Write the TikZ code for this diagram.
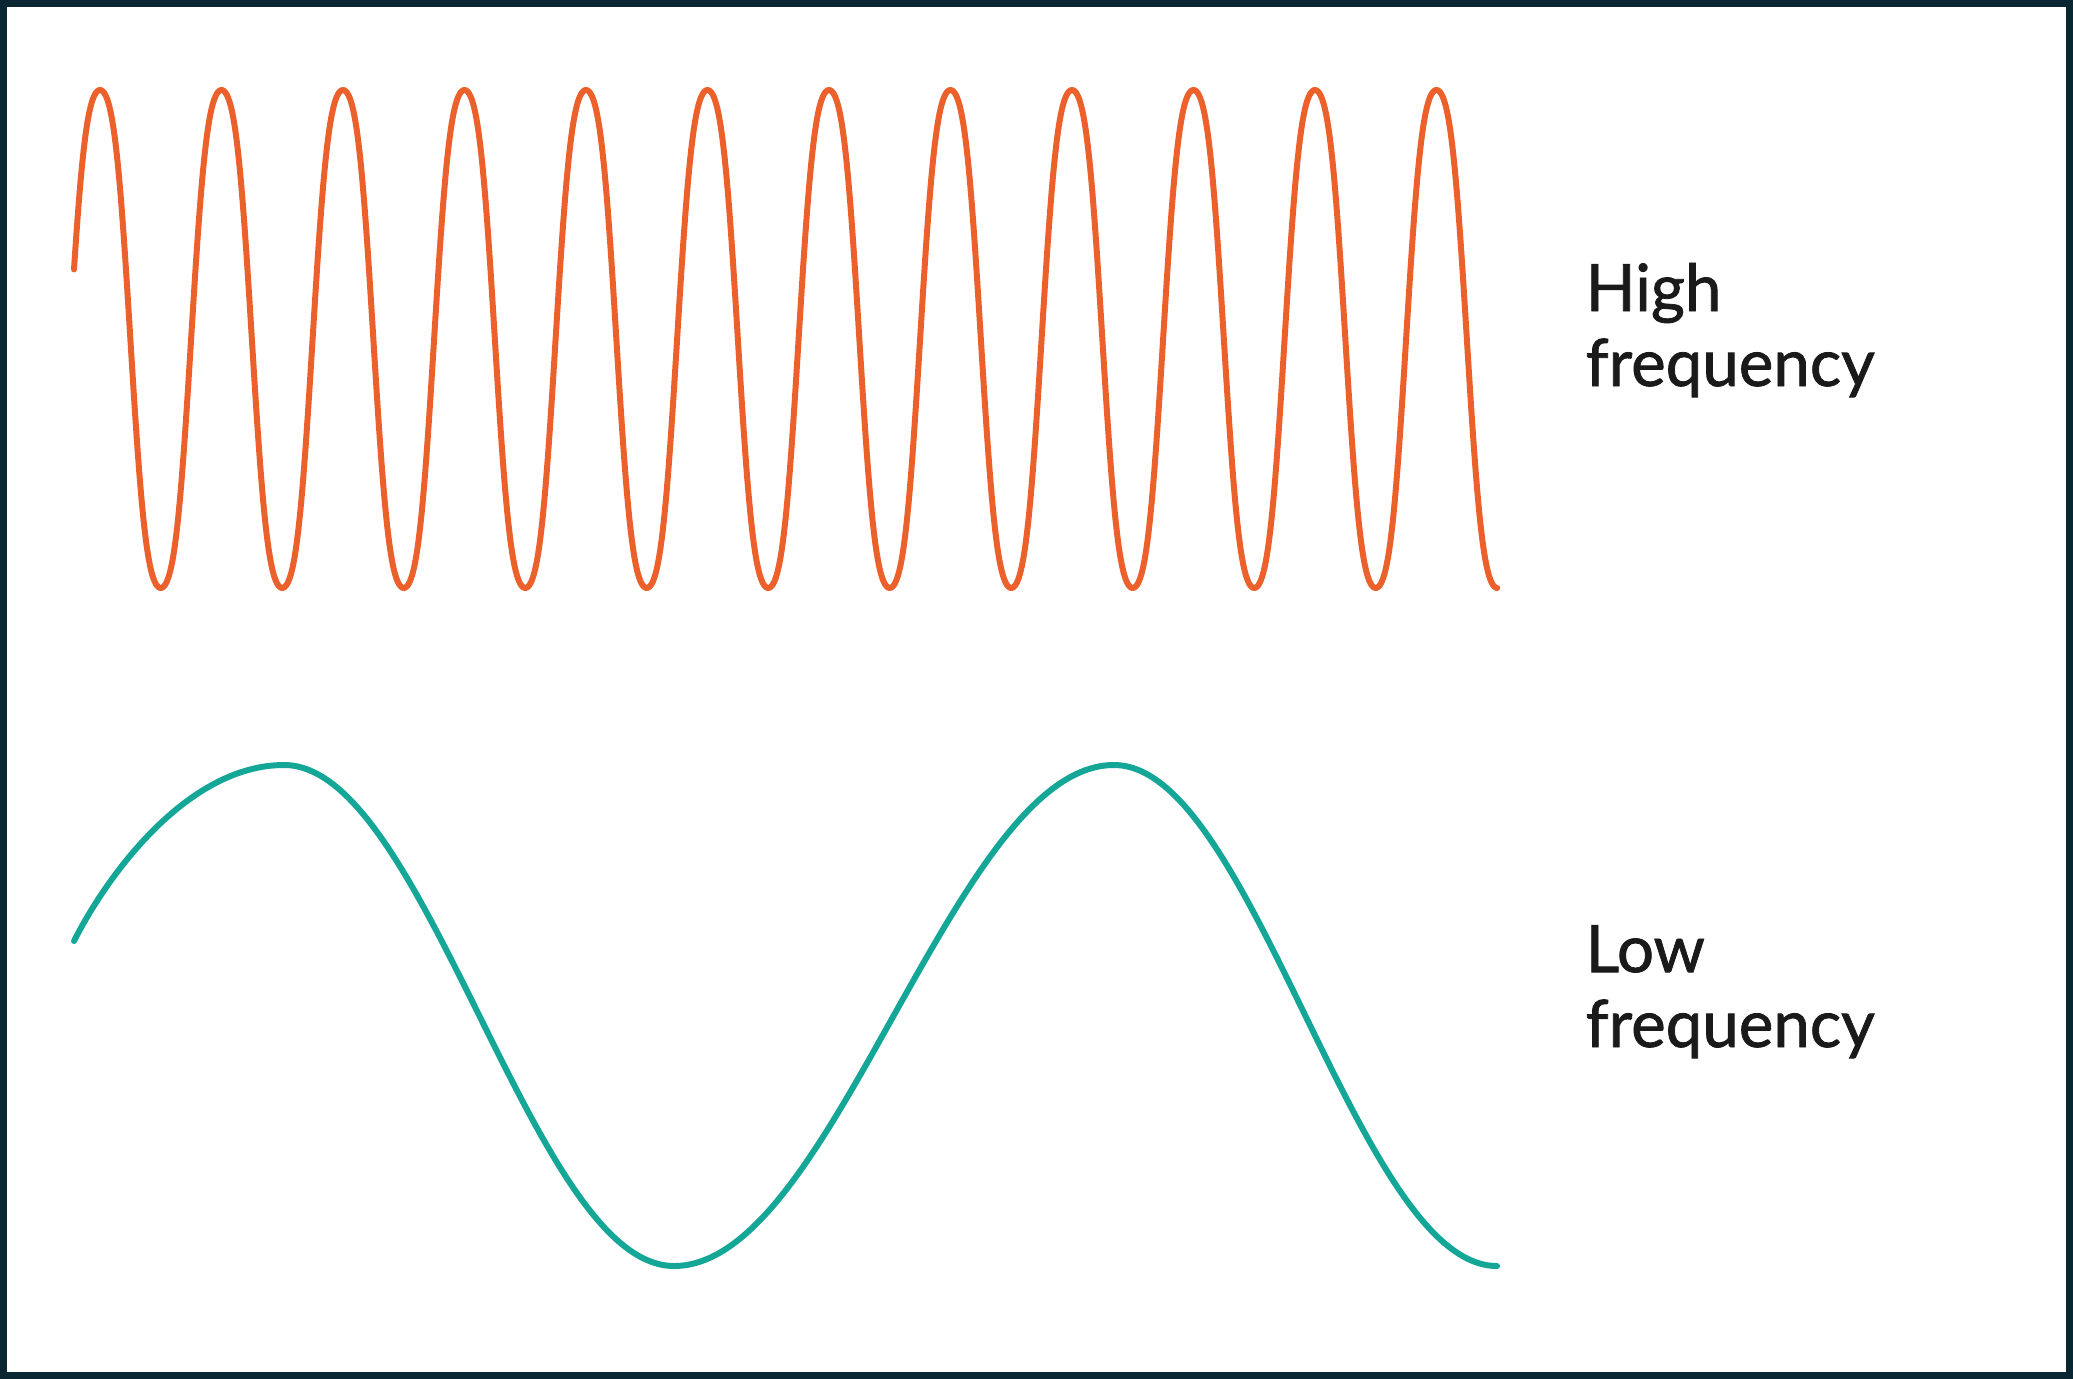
\documentclass[tikz,border=0pt]{standalone}
\usepackage{fontspec}
\setmainfont{Lato}[FakeBold=1.2]
\usepackage{tikz}
\usetikzlibrary{positioning}
\definecolor{frame}{HTML}{0B2633}
\definecolor{hiwave}{HTML}{EC602C}
\definecolor{lowave}{HTML}{14A696}
\definecolor{ink}{HTML}{1A1A1A}
\tikzset{
    wave/.style = {line width=1.7pt, line cap=round, line join=round},
    caption/.style = {anchor=base west, inner sep=0pt, align=left, text=ink,
        font=\fontsize{18.6}{21.3}\selectfont},
}

\begin{document}
\begin{tikzpicture}[x=0.01cm, y=-0.01cm]
    % frame
    \fill[frame] (0,0) rectangle (2073,1379);
    \fill[white] (7,7) rectangle (2066,1372);
    % high frequency
    \draw[wave, hiwave] plot[domain=13:4230, samples=1200]
        ({74+(\x-13)*0.3375}, {339-249*(sin(\x)+0.06*sin(3*\x))/0.94});
    \node[caption] (high) at (1585,386) {High\\frequency};
    % low frequency
    \draw[wave, lowave] (74,941) .. controls (110,870) and (190,765) .. (284,765)
        cos (479,1015) sin (674,1266) cos (894,1015) sin (1114,765)
        cos (1305,1015) sin (1497,1266);
    \node[caption] (low) at (1585,1047) {Low\\frequency};
\end{tikzpicture}
\end{document}
